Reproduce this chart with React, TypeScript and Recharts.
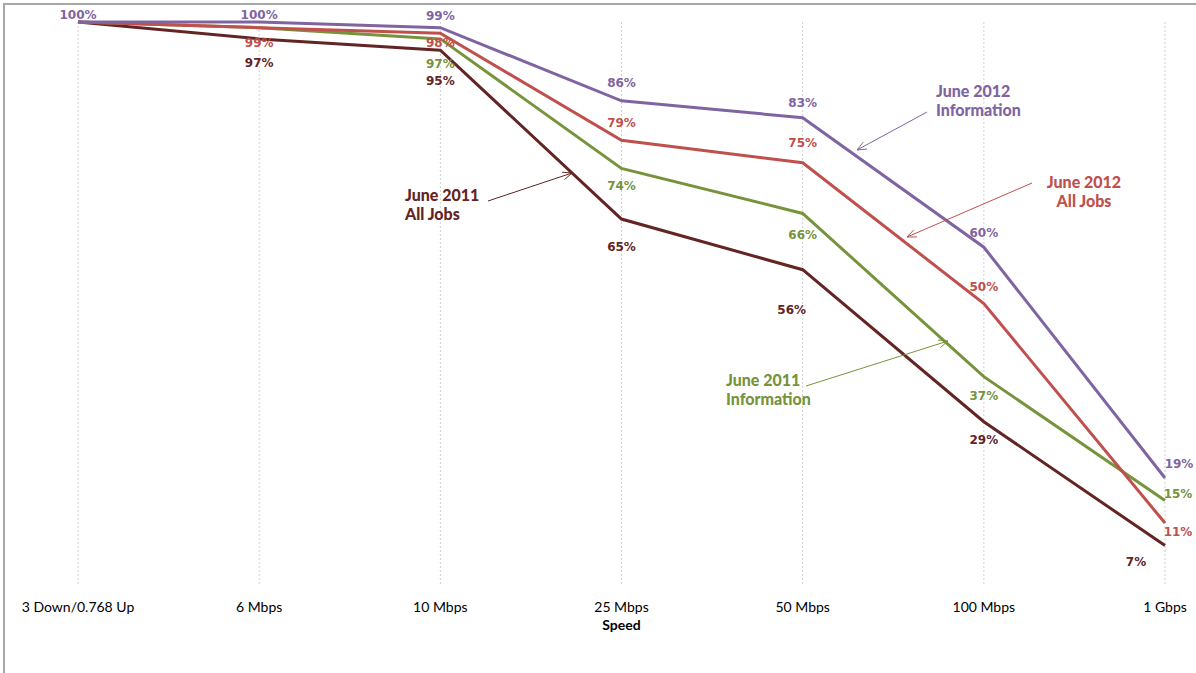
import { CartesianGrid, LabelList, Line, LineChart, XAxis, YAxis } from "recharts";

// share of jobs reachable at each broadband speed tier (%)
const speeds = ["3 Down/0.768 Up", "6 Mbps", "10 Mbps", "25 Mbps", "50 Mbps", "100 Mbps", "1 Gbps"];
const jun2012Info = [100, 100, 99, 86, 83, 60, 19];
const jun2012All = [100, 99, 98, 79, 75, 50, 11];
const jun2011Info = [100, 99, 97, 74, 66, 37, 15];
const jun2011All = [100, 97, 95, 65, 56, 29, 7];

const data = speeds.map((speed, i) => ({
  speed,
  info12: jun2012Info[i],
  all12: jun2012All[i],
  info11: jun2011Info[i],
  all11: jun2011All[i],
}));

const PURPLE = "#8064A2";
const RED = "#C0504D";
const GREEN = "#77933C";
const MAROON = "#632523";

// label placement per point: [dx, dy] from the point, null = no label
type Off = [number, number] | null;
const offInfo12: Off[] = [[0, -7], [0, -7], [0, -12], [0, -18], [0, -15], [0, -14], [14, -14]];
const offAll12: Off[] = [null, [0, 15], [0, 10], [0, -17], [0, -20], [0, -17], [13, 9]];
const offInfo11: Off[] = [null, null, [0, 25], [0, 18], [0, 22], [0, 19], [13, -7]];
const offAll11: Off[] = [null, [0, 24], [0, 31], [0, 28], [-11, 40], [0, 18], [-29, 16]];

const labelFont = "'DejaVu Sans', sans-serif";
const textFont = "Lato, 'Open Sans', sans-serif";

const pointLabel = (offsets: Off[], color: string) => (props: any) => {
  const o = offsets[props.index];
  if (!o) return null;
  return (
    <text
      x={props.x + o[0]}
      y={props.y + o[1]}
      textAnchor="middle"
      dominantBaseline="central"
      fill={color}
      fontSize={12}
      fontWeight="bold"
      fontFamily={labelFont}
    >
      {props.value}%
    </text>
  );
};

function Callout({ lines, x, y, anchor, color, from, to }: any) {
  const ang = Math.atan2(to[1] - from[1], to[0] - from[0]);
  const head = 10;
  const a1 = ang + Math.PI - 0.4;
  const a2 = ang + Math.PI + 0.4;
  return (
    <g>
      {lines.map((t: string, i: number) => (
        <text
          key={t}
          x={x}
          y={y + i * 19}
          textAnchor={anchor}
          dominantBaseline="central"
          fill={color}
          fontSize={16}
          fontWeight={900}
          fontFamily={textFont}
        >
          {t}
        </text>
      ))}
      <line x1={from[0]} y1={from[1]} x2={to[0]} y2={to[1]} stroke={color} strokeWidth={1} />
      <polyline
        points={`${to[0] + head * Math.cos(a1)},${to[1] + head * Math.sin(a1)} ${to[0]},${to[1]} ${to[0] + head * Math.cos(a2)},${to[1] + head * Math.sin(a2)}`}
        fill="none"
        stroke={color}
        strokeWidth={1}
      />
    </g>
  );
}

export default function App() {
  return (
    <div style={{ position: "absolute", left: 0, top: 0, width: 1196, height: 673, overflow: "hidden", background: "#fff" }}>
      <div
        style={{
          position: "absolute",
          left: 3,
          top: 3,
          width: 1300,
          height: 700,
          borderTop: "2px solid #a6a6a6",
          borderLeft: "2px solid #a6a6a6",
        }}
      />
      <div style={{ position: "absolute", left: 0, top: 0 }}>
        <LineChart width={1196} height={673} data={data} margin={{ top: 22, right: 31, left: 78, bottom: 0 }}>
          <CartesianGrid vertical horizontal={false} stroke="#cfcfcf" strokeDasharray="2 2" />
          <XAxis
            dataKey="speed"
            axisLine={false}
            tickLine={false}
            height={88}
            tickMargin={11}
            interval={0}
            tick={{ fill: "#000", fontSize: 14, fontFamily: textFont }}
            label={{ value: "Speed", position: "insideTop", offset: 35, fill: "#000", fontSize: 14, fontWeight: "bold", fontFamily: textFont }}
          />
          <YAxis hide domain={[0, 100]} width={0} />
          <Line dataKey="all11" stroke={MAROON} strokeWidth={3} dot={false} isAnimationActive={false}>
            <LabelList dataKey="all11" content={pointLabel(offAll11, MAROON)} />
          </Line>
          <Line dataKey="info11" stroke={GREEN} strokeWidth={3} dot={false} isAnimationActive={false}>
            <LabelList dataKey="info11" content={pointLabel(offInfo11, GREEN)} />
          </Line>
          <Line dataKey="all12" stroke={RED} strokeWidth={3} dot={false} isAnimationActive={false}>
            <LabelList dataKey="all12" content={pointLabel(offAll12, RED)} />
          </Line>
          <Line dataKey="info12" stroke={PURPLE} strokeWidth={3} dot={false} isAnimationActive={false}>
            <LabelList dataKey="info12" content={pointLabel(offInfo12, PURPLE)} />
          </Line>
        </LineChart>
      </div>
      <svg width={1196} height={673} style={{ position: "absolute", left: 0, top: 0, pointerEvents: "none" }}>
        <Callout lines={["June 2012", "Information"]} x={936} y={90} anchor="start" color={PURPLE} from={[927, 112]} to={[857, 150]} />
        <Callout lines={["June 2012", "All Jobs"]} x={1084} y={181} anchor="middle" color={RED} from={[1032, 183]} to={[907, 237]} />
        <Callout lines={["June 2011", "All Jobs"]} x={405} y={194} anchor="start" color={MAROON} from={[488, 201]} to={[572, 173]} />
        <Callout lines={["June 2011", "Information"]} x={726} y={379} anchor="start" color={GREEN} from={[806, 386]} to={[948, 341]} />
      </svg>
    </div>
  );
}
